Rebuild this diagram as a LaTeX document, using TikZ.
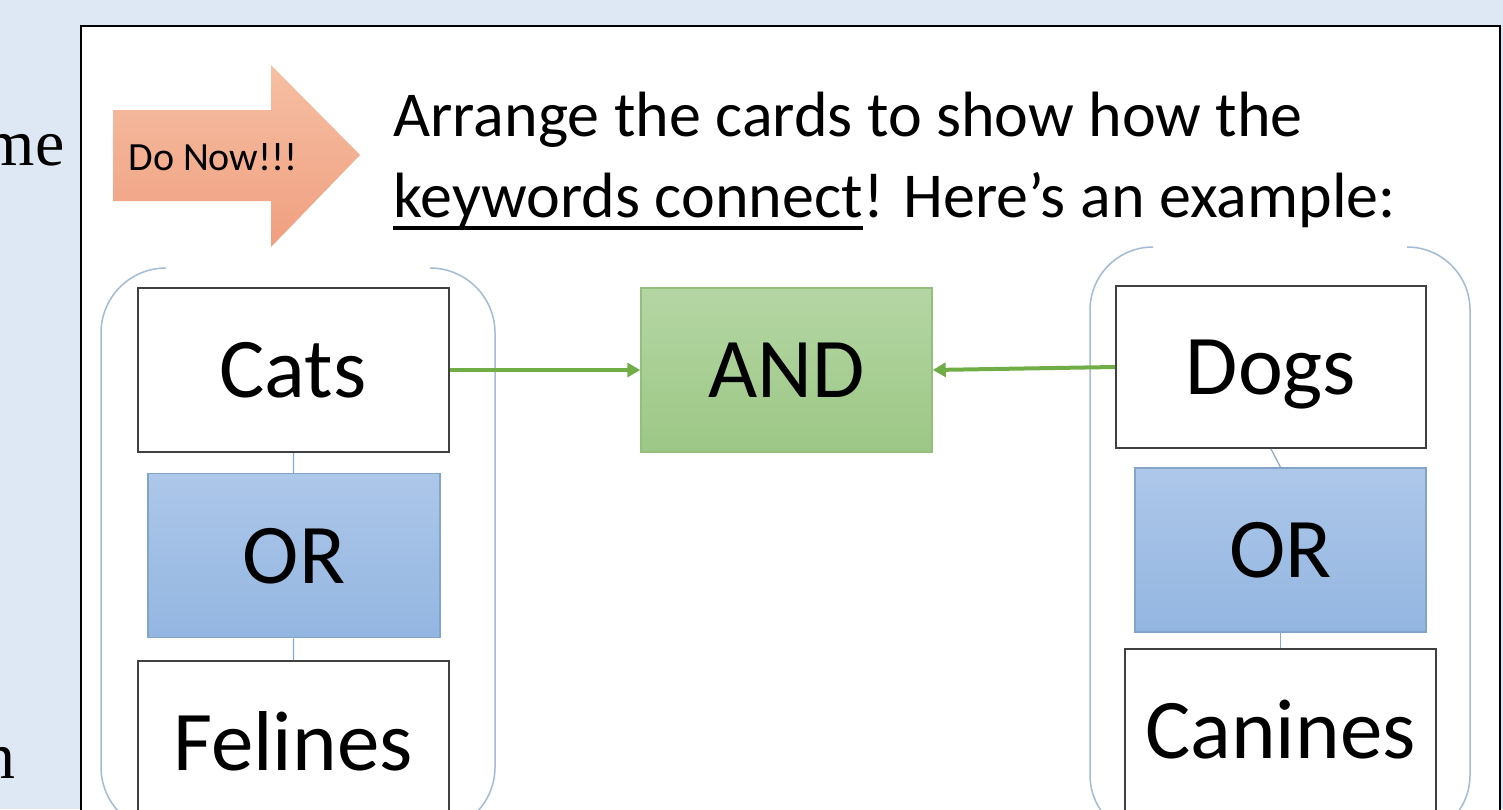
\documentclass[tikz,border=0pt]{standalone}
\usepackage{fontspec}
\setmainfont{Carlito}
\newfontfamily\panefont{Liberation Serif}
\usepackage{tikz}
\usetikzlibrary{arrows.meta, positioning}
\definecolor{pane}{HTML}{DDE8F4}
\definecolor{edge}{HTML}{404040}
\definecolor{bracket}{HTML}{A3BBD3}
\definecolor{wire}{HTML}{8BA6C6}
\definecolor{link}{HTML}{70AD47}
\definecolor{ortop}{HTML}{ADC7E9}
\definecolor{orbot}{HTML}{93B6E1}
\definecolor{oredge}{HTML}{84A3CB}
\definecolor{andtop}{HTML}{B5D6A4}
\definecolor{andbot}{HTML}{9CC785}
\definecolor{andedge}{HTML}{93BE7C}
\definecolor{nowtop}{HTML}{F6BFA3}
\definecolor{nowbot}{HTML}{F09F80}
\newcommand{\cardfont}{\fontsize{85}{100}\selectfont}
\newcommand{\taskfont}{\fontsize{64}{77}\selectfont}

\begin{document}
\begin{tikzpicture}[x=1pt, y=-1pt, line width=1pt,
    card/.style={draw=edge, line width=2pt, fill=white, inner sep=0pt,
      minimum width=311pt, minimum height=164pt, font=\cardfont,
      text height=55pt, text depth=0pt},
    orcard/.style={card, draw=oredge, line width=1.5pt,
      top color=ortop, bottom color=orbot, minimum width=292pt},
    andcard/.style={card, draw=andedge, line width=1.5pt,
      top color=andtop, bottom color=andbot, minimum width=291pt},
    task/.style={font=\taskfont, anchor=base west, inner sep=0pt},
    link/.style={draw=link, line width=4pt, -{Triangle[length=13pt, width=14pt]}},
    wire/.style={draw=wire, line width=1.2pt},
    brk/.style={draw=bracket, line width=1.5pt}]
  \useasboundingbox (0,0) rectangle (1503,809);
  \clip (0,0) rectangle (1503,809);
  \fill[pane] (0,0) rectangle (1503,809);
  % cut-off words in the side pane
  \node[font=\panefont\fontsize{66}{70}\selectfont, anchor=base east, inner sep=0pt] (pa) at (65,165) {me};
  \node[font=\panefont\fontsize{66}{70}\selectfont, anchor=base east, inner sep=0pt] (pb) at (16,778) {n};
  % slide
  \draw[line width=2.5pt, fill=white] (81,26) rectangle (1500,830);
  % do now arrow
  \shade[top color=nowtop, bottom color=nowbot]
    (113,110) -- (271,110) -- (271,65) -- (360,155) -- (271,247) -- (271,201) -- (113,201) -- cycle;
  \node[font=\fontsize{40}{48}\selectfont, text height=26pt, text depth=0pt, inner sep=0pt] (donow) at (213,157) {Do Now!!!};
  % task text, second line underlined in part
  \node[task] (taska) at (393,136) {Arrange the cards to show how the};
  \node[task] (kw) at (393,217) {keywords connect};
  \node[task] (taskb) at (kw.base east) {! Here’s an example:};
  \draw[line width=4pt] ([yshift=-11pt]kw.base west) -- ([yshift=-11pt]kw.base east);
  % brackets round each group
  \draw[brk, rounded corners=65pt] (166,268) -- (101,268) -- (101,832) -- (166,832);
  \draw[brk, rounded corners=65pt] (430,268) -- (495,268) -- (495,832) -- (430,832);
  \draw[brk, rounded corners=63pt] (1153,247) -- (1090,247) -- (1090,838) -- (1153,838);
  \draw[brk, rounded corners=63pt] (1407,247) -- (1470,247) -- (1470,838) -- (1407,838);
  % cards
  \node[card] (cats) at (293,370) {Cats};
  \node[orcard] (orl) at (294,555.5) {OR};
  \node[card] (felines) at (293,743) {Felines};
  \node[andcard] (and) at (786.5,370) {AND};
  \node[card, minimum width=310pt, minimum height=162pt] (dogs) at (1271,367) {Dogs};
  \node[orcard, minimum width=291pt] (orr) at (1280.5,550) {OR};
  \node[card] (canines) at (1280.5,731) {Canines};
  % connectors
  \draw[wire] (cats) -- (orl);
  \draw[wire] (orl) -- (felines);
  \draw[wire] (dogs.south) -- (orr.north);
  \draw[wire] (orr) -- (canines);
  \draw[link] (cats) -- (and);
  \draw[link] (dogs.west) -- (and.east);
\end{tikzpicture}
\end{document}
